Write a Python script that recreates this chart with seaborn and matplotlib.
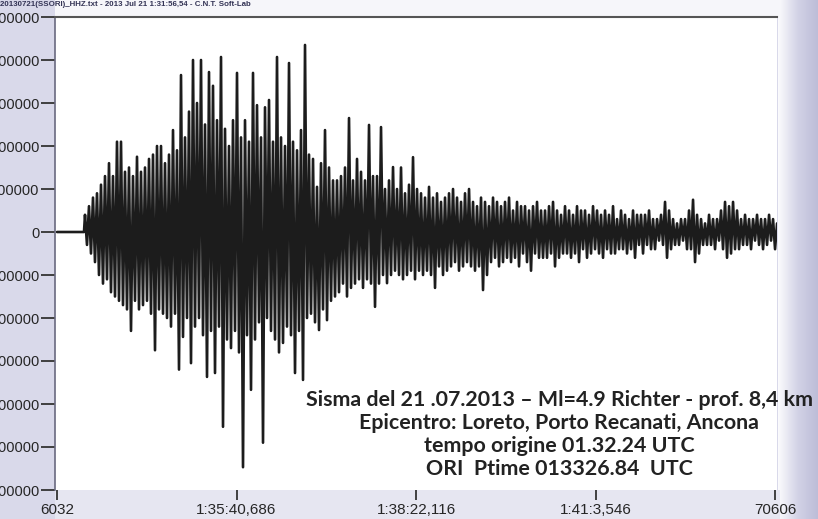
import numpy as np
import pandas as pd
import matplotlib
matplotlib.use("Agg")
import matplotlib.pyplot as plt
import seaborn as sns
from matplotlib.patches import Rectangle
from matplotlib.colors import LinearSegmentedColormap

# header of the recording
header = "20130721(SSORI)_HHZ.txt - 2013 Jul 21 1:31:56,54 - C.N.T. Soft-Lab"

# sample axis
first_sample = 6032
last_sample = 70606
quiet_end = 8460
onset_sample = 8550
end_sample = 70790
xtick_samples = [6032, 22175.5, 38319, 54462.5, 70606]
xtick_labels = ["6032", "1:35:40,686", "1:38:22,116", "1:41:3,546", "70606"]

# amplitude axis (units of 100000 counts)
ytick_values = [5, 4, 3, 2, 1, 0, -1, -2, -3, -4, -5, -6]
ytick_labels = ["500000", "400000", "300000", "200000", "100000", "0",
                "-100000", "-200000", "-300000", "-400000", "-500000", "-600000"]

# successive peaks of the trace after the onset
peaks = [
    0.4, -0.3, 0.6, -0.5, 0.8, -0.7, 0.9, -1.0, 1.1, -1.2,
    1.3, -1.1, 1.6, -1.4, 1.3, -1.5, 2.1, -1.6, 2.1, -1.7,
    1.4, -1.8, 1.5, -2.3, 1.3, -1.6, 1.75, -1.8, 1.4, -1.7,
    1.5, -1.6, 1.7, -1.9, 1.8, -2.75, 2.0, -1.8, 2.0, -1.9,
    1.6, -2.0, 1.8, -2.2, 2.37, -1.9, 1.9, -3.2, 3.65, -2.44,
    2.2, -2.0, 2.8, -3.05, 4.0, -2.2, 3.0, -2.0, 4.0, -2.4,
    2.5, -3.37, 3.72, -2.3, 3.4, -3.28, 2.6, -2.2, 4.07, -4.53,
    2.4, -2.5, 2.0, -2.7, 2.6, -2.3, 3.7, -2.8, 2.2, -5.47,
    2.6, -2.4, 2.1, -3.67, 3.7, -2.5, 2.95, -2.1, 2.2, -4.9,
    2.9, -2.0, 3.07, -2.3, 2.1, -2.5, 4.07, -2.8, 2.2, -2.58,
    2.0, -2.2, 3.93, -2.4, 2.1, -3.28, 1.9, -2.3, 2.37, -3.44,
    4.35, -2.0, 1.8, -1.9, 1.7, -2.1, 1.05, -2.28, 1.6, -1.8,
    2.37, -2.05, 1.5, -1.6, 1.2, -1.5, 1.2, -1.4, 1.3, -1.2,
    1.5, -1.5, 2.65, -1.3, 1.2, -1.2, 1.7, -1.1, 1.4, -1.3,
    1.2, -1.1, 2.49, -1.2, 1.3, -1.74, 1.3, -1.2, 2.44, -1.0,
    1.0, -1.19, 1.2, -1.0, 1.51, -0.9, 1.0, -1.0, 1.5, -1.1,
    0.9, -1.0, 1.1, -0.9, 1.74, -1.1, 1.0, -0.9, 0.9, -1.0,
    0.8, -0.9, 1.05, -1.0, 0.8, -1.3, 0.9, -0.8, 0.7, -1.0,
    0.8, -0.9, 0.9, -0.8, 1.0, -0.7, 0.8, -0.9, 0.7, -0.8,
    0.9, -0.7, 1.0, -0.8, 0.7, -0.9, 0.6, -0.8, 0.8, -1.35,
    0.7, -1.0, 0.6, -0.7, 0.8, -0.6, 0.7, -0.8, 0.6, -0.7,
    0.7, -0.6, 0.8, -0.7, 0.5, -0.6, 0.7, -0.8, 0.6, -0.5,
    0.6, -0.7, 0.5, -0.9, 0.6, -0.5, 0.7, -0.6, 0.5, -0.6,
    0.5, -0.6, 0.6, -0.5, 0.7, -0.8, 0.5, -0.6, 0.4, -0.5,
    0.6, -0.5, 0.5, -0.6, 0.4, -0.5, 0.6, -0.7, 0.5, -0.4,
    0.5, -0.6, 0.4, -0.5, 0.6, -0.4, 0.5, -0.5, 0.4, -0.6,
    0.5, -0.4, 0.4, -0.5, 0.6, -0.5, 0.3, -0.4, 0.5, -0.4,
    0.4, -0.5, 0.3, -0.4, 0.5, -0.6, 0.4, -0.3, 0.4, -0.5,
    0.4, -0.3, 0.5, -0.4, 0.3, -0.4, 0.3, -0.2, 0.4, -0.3,
    0.7, -0.6, 0.5, -0.4, 0.3, -0.3, 0.2, -0.3, 0.3, -0.2,
    0.3, -0.4, 0.5, -0.4, 0.75, -0.7, 0.4, -0.5, 0.3, -0.3,
    0.2, -0.3, 0.4, -0.3, 0.3, -0.4, 0.3, -0.2, 0.5, -0.4,
    0.7, -0.6, 0.6, -0.5, 0.7, -0.4, 0.5, -0.4, 0.3, -0.3,
    0.4, -0.3, 0.3, -0.4, 0.3, -0.2, 0.4, -0.3, 0.3, -0.4,
    0.3, -0.3, 0.4, -0.2, 0.3, -0.4, 0.2,
]

info_lines = [
    "Sisma del 21 .07.2013 \u2013 Ml=4.9 Richter - prof. 8,4 km",
    "Epicentro: Loreto, Porto Recanati, Ancona",
    "tempo origine 01.32.24 UTC",
    "ORI  Ptime 013326.84  UTC",
]

# build the trace: quiet line until the onset, then the peaks
t_signal = np.linspace(onset_sample, end_sample, len(peaks))
trace = pd.DataFrame({
    "sample": np.concatenate([[first_sample, quiet_end], t_signal]),
    "amp": np.concatenate([[0.0, 0.0], peaks]),
})

sns.set_theme(style="white")
plt.rcParams["font.family"] = ["Liberation Sans", "DejaVu Sans"]

fig = plt.figure(figsize=(8.18, 5.19), dpi=100)
fig.patch.set_facecolor("#d9d9ea")

# scanned-page look behind everything (pixel coords of the page)
bg = fig.add_axes([0, 0, 1, 1], zorder=-5)
bg.set_xlim(0, 818)
bg.set_ylim(519, 0)
bg.axis("off")
bg.add_patch(Rectangle((55, 0), 725, 17, facecolor="#f6f6fa", edgecolor="none"))
bg.add_patch(Rectangle((55, 490), 725, 29, facecolor="#e6e6f1", edgecolor="none"))
fade_cmap = LinearSegmentedColormap.from_list("fade", ["#fbfbfd", "#d2d2e6", "#bdbdd8"])
bg.imshow(np.linspace(0, 1, 64)[None, :], aspect="auto", cmap=fade_cmap,
          extent=[778, 818, 519, 0])
bg.set_xlim(0, 818)
bg.set_ylim(519, 0)

ax = fig.add_axes([55 / 818, 1 - 490 / 519, (777 - 55) / 818, (490 - 17) / 519],
                  zorder=1)
ax.set_facecolor("white")

sns.lineplot(data=trace, x="sample", y="amp", ax=ax, sort=False,
             estimator=None, color="#1c1c1c", linewidth=1.9)

span = (last_sample - first_sample) / 718
ax.set_xlim(first_sample - 2 * span, last_sample + 2 * span)
ax.set_ylim(-6, 5)

ax.set_xticks(xtick_samples)
ax.set_xticklabels(xtick_labels, fontsize=11)
ax.set_yticks(ytick_values)
ax.set_yticklabels(ytick_labels, fontsize=10.5)
ax.tick_params(axis="y", direction="out", length=10, width=1.3, color="#333333",
               pad=1, left=True)
ax.tick_params(axis="x", direction="out", length=7, width=1.3, color="#333333",
               pad=2, bottom=True)
ax.set_xlabel("")
ax.set_ylabel("")

for side in ["right", "bottom"]:
    ax.spines[side].set_visible(False)
ax.spines["left"].set_color("#6a6a80")
ax.spines["left"].set_linewidth(1.2)
ax.spines["top"].set_color("#555555")
ax.spines["top"].set_linewidth(1.5)

# header text at the top left
fig.text(0.0, 1 - 5 / 519, header, fontsize=5.7, fontweight="bold",
         color="#333355", ha="left", va="center")

# event description
for k, line in enumerate(info_lines):
    fig.text(559 / 818, 1 - (400 + 23 * k) / 519, line, fontsize=15.4,
             fontweight="bold", color="#222222", ha="center", va="center",
             family=["Lato", "DejaVu Sans"], zorder=5)

fig.savefig("out.png", dpi=100, facecolor=fig.get_facecolor())
